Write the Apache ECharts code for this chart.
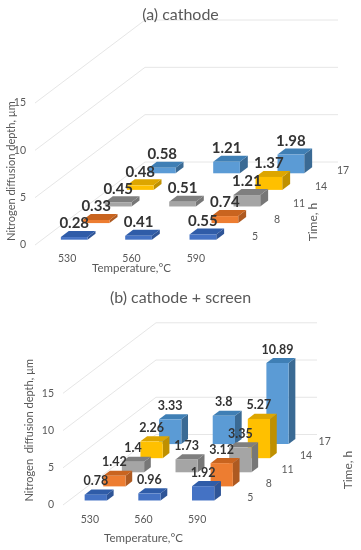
<!DOCTYPE html>
<html>
<head>
<meta charset="utf-8">
<style>html,body{margin:0;padding:0;background:#fff}#c{width:361px;height:550px}</style>
<script src="https://cdn.jsdelivr.net/npm/echarts@6/dist/echarts.min.js"></script>
</head>
<body>
<div id="c"></div>
<script>
var temperatures = ['530', '560', '590'];
var times = ['5', '8', '11', '14', '17'];
var yTicks = [0, 5, 10, 15];
var cathode = [
  [0.28, 0.41, 0.55],
  [0.33, null, 0.74],
  [0.45, 0.51, 1.21],
  [0.48, null, 1.37],
  [0.58, 1.21, 1.98]
];
var cathodeScreen = [
  [0.78, 0.96, 1.92],
  [1.42, null, 3.12],
  [1.4, 1.73, 3.35],
  [2.26, null, 5.27],
  [3.33, 3.8, 10.89]
];
var fronts = ['#4472C4', '#ED7D31', '#A5A5A5', '#FFC000', '#5B9BD5'];
var tops = ['#2F5CA8', '#C9641F', '#7F7F7F', '#DDA600', '#3F7FB5'];
var sides = ['#2F5597', '#AE5A21', '#777777', '#BF9000', '#3A6A94'];

var panels = [
  {title: '(a) cathode', titleTop: 2, values: cathode, left: 35, width: 193, top: 103, height: 142,
   dx: 22, dy: 16.6, labelSize: 15, nameGap: 17, yName: 'Nitrogen diffusion depth, µm', yGap: 18, yPad: 6,
   timeX: 313, timeY: 222, timeOffset: 16, catMargin: 8},
  {title: '(b) cathode + screen', titleTop: 285, values: cathodeScreen, left: 63, width: 161, top: 393.3, height: 111.7,
   dx: 18.6, dy: 14.1, labelSize: 12.5, nameGap: 27, yName: 'Nitrogen  diffusion depth, µm', yGap: 28, yPad: 38,
   timeX: 348, timeY: 470, timeOffset: 17, catMargin: 9}
];
var FONT = 'Lato, "Open Sans", sans-serif';
var GREY = '#595959';
var series = [], grids = [], xAxes = [], yAxes = [], titles = [];

function poly(points, fill) {
  return {type: 'polygon', shape: {points: points}, style: {fill: fill}};
}

panels.forEach(function (p, pi) {
  grids.push({left: p.left, width: p.width, top: p.top, height: p.height, outerBoundsMode: 'none', containLabel: false});
  titles.push({text: p.title, left: 'center', top: p.titleTop,
    textStyle: {fontFamily: FONT, fontSize: 16, fontWeight: 'normal', color: GREY}});
  xAxes.push({gridIndex: pi, type: 'category', data: temperatures, name: 'Temperature,°C', nameLocation: 'middle',
    nameGap: p.nameGap, nameMoveOverlap: false, nameTextStyle: {fontFamily: FONT, fontSize: 11.5, color: GREY},
    axisLine: {show: false}, axisTick: {show: false},
    axisLabel: {margin: p.catMargin, fontFamily: FONT, fontSize: 10.5, color: GREY}});
  yAxes.push({gridIndex: pi, type: 'value', min: 0, max: 15, interval: 5, name: p.yName, nameLocation: 'middle',
    nameGap: p.yGap, nameRotate: 90, nameMoveOverlap: false, nameTextStyle: {fontFamily: FONT, fontSize: 11, color: GREY, padding: [0, 0, 0, p.yPad]},
    axisLine: {show: false}, axisTick: {show: false}, splitLine: {show: false},
    axisLabel: {margin: 9, fontFamily: FONT, fontSize: 10.5, color: GREY}});

  var nRows = times.length;
  // walls
  series.push({type: 'custom', xAxisIndex: pi, yAxisIndex: pi, silent: true, clip: false, z: 1,
    data: yTicks.map(function (v) { return [0, v]; }), encode: {x: 0, y: 1},
    renderItem: function (params, api) {
      var a = api.coord([0, api.value(1)]);
      var band = api.size([1, 0])[0];
      var x0 = a[0] - band / 2, y0 = a[1];
      var bx = x0 + p.dx * nRows, by = y0 - p.dy * nRows;
      var ln = {stroke: '#E6E6E6', lineWidth: 1};
      return {type: 'group', children: [
        {type: 'line', shape: {x1: x0, y1: y0, x2: bx, y2: by}, style: ln},
        {type: 'line', shape: {x1: bx, y1: by, x2: bx + p.width, y2: by}, style: ln}
      ]};
    }});
  // bars: back row first
  var rows = [];
  for (var r = nRows - 1; r >= 0; r--) {
    for (var c = 0; c < temperatures.length; c++) {
      if (p.values[r][c] !== null) rows.push([c, p.values[r][c], r]);
    }
  }
  series.push({type: 'custom', xAxisIndex: pi, yAxisIndex: pi, silent: true, clip: false, z: 2,
    data: rows, encode: {x: 0, y: 1},
    renderItem: function (params, api) {
      var tIdx = api.value(2);
      var top = api.coord([api.value(0), api.value(1)]);
      var base = api.coord([api.value(0), 0]);
      var band = api.size([1, 0])[0];
      var w = band * 0.415;
      var ox = p.dx * (tIdx + 0.32), oy = p.dy * (tIdx + 0.32);
      var dxb = p.dx * 0.36, dyb = p.dy * 0.36;
      var l = base[0] + ox - w / 2, rr = l + w;
      var yb = base[1] - oy, yt = top[1] - oy;
      return {type: 'group', children: [
        poly([[rr, yb], [rr + dxb, yb - dyb], [rr + dxb, yt - dyb], [rr, yt]], sides[tIdx]),
        poly([[l, yt], [rr, yt], [rr + dxb, yt - dyb], [l + dxb, yt - dyb]], tops[tIdx]),
        {type: 'rect', shape: {x: l, y: yt, width: w, height: yb - yt}, style: {fill: fronts[tIdx]}}
      ]};
    }});
  // value labels
  series.push({type: 'custom', xAxisIndex: pi, yAxisIndex: pi, silent: true, clip: false, z: 3,
    data: rows, encode: {x: 0, y: 1},
    renderItem: function (params, api) {
      var tIdx = api.value(2), cIdx = api.value(0);
      var top = api.coord([cIdx, api.value(1)]);
      var ox = p.dx * (tIdx + 0.32), oy = p.dy * (tIdx + 0.32);
      return {type: 'text', style: {x: top[0] + ox, y: top[1] - oy - 13.5, text: String(api.value(1)),
        align: 'center', verticalAlign: 'middle', fontFamily: FONT, fontWeight: 'bold', fontSize: p.labelSize, fill: '#333333'}};
    }});
  // time labels
  series.push({type: 'custom', xAxisIndex: pi, yAxisIndex: pi, silent: true, clip: false, z: 3,
    data: times.map(function (t, i) { return [2, 0, i]; }), encode: {x: 0, y: 1},
    renderItem: function (params, api) {
      var i = api.value(2);
      var a = api.coord([2, 0]);
      var band = api.size([1, 0])[0];
      return {type: 'text', style: {x: a[0] + band / 2 + p.dx * (i + 0.5) + p.timeOffset, y: a[1] - p.dy * (i + 0.5),
        text: times[i], align: 'center', verticalAlign: 'middle', fontFamily: FONT, fontSize: 10.5, fill: GREY}};
    }});
});

var chart = echarts.init(document.getElementById('c'), null, {renderer: 'canvas'});
chart.setOption({
  animation: false,
  backgroundColor: '#ffffff',
  title: titles, grid: grids, xAxis: xAxes, yAxis: yAxes, series: series,
  graphic: panels.map(function (p) {
    return {type: 'text', x: p.timeX, y: p.timeY, rotation: Math.PI / 2,
      style: {x: 0, y: 0, text: 'Time, h', align: 'center', verticalAlign: 'middle', fontFamily: FONT, fontSize: 12, fill: GREY}};
  })
});
</script>
</body>
</html>
